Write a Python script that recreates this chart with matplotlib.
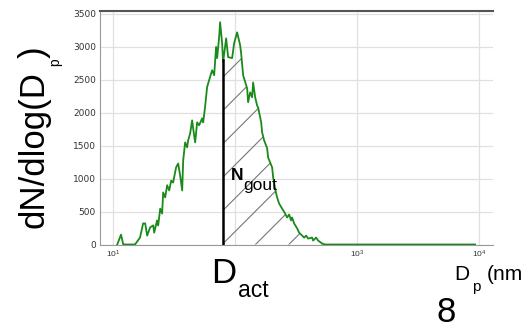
import numpy as np
import matplotlib
matplotlib.use("Agg")
import matplotlib.pyplot as plt

# size distribution (Dp in nm, dN/dlogDp)
dp = [10.8, 11.6, 12.1, 15.1, 16.6, 17.6, 18.3, 19.0, 20.1, 21.3, 21.7, 22.9,
      23.4, 24.3, 25.2, 25.7, 26.7, 27.7, 28.8, 29.9, 31.0, 32.8, 34.1, 35.4,
      36.8, 37.5, 38.9, 40.4, 41.2, 42.8, 44.4, 45.3, 47.0, 48.8, 50.7, 53.6,
      54.7, 56.8, 58.9, 63.6, 64.8, 67.3, 69.8, 71.2, 73.9, 75.3, 78.2, 79.7,
      84.4, 87.6, 94.5, 98.1, 103.8, 109.9, 112.0, 116.3, 125.4, 127.8, 132.7,
      137.8, 140.4, 145.9, 151.4, 154.4, 163.4, 166.5, 172.9, 183.0, 186.4,
      201.1, 204.9, 212.8, 216.8, 220.9, 229.5, 242.8, 256.9, 266.9, 277.1,
      287.7, 293.0, 304.5, 322.3, 334.6, 354.2, 367.8, 381.9, 396.6, 427.7,
      435.7, 461.2, 479.0, 516.6, 546.5, 1000.0, 3000.0, 9270.0]
dndlogdp = [0, 150, 0, 0, 105, 320, 320, 135, 260, 290, 180, 365,
            290, 545, 470, 790, 715, 900, 820, 970, 940, 1170, 1230, 1050,
            820, 1275, 1550, 1475, 1580, 1690, 1885, 1760, 1550, 1855, 1810, 1915,
            1855, 2100, 2390, 2600, 2645, 2570, 3000, 2830, 3145, 3375, 3055, 2770,
            3130, 2845, 2830, 3055, 3220, 3025, 2900, 2570, 2370, 2160, 2310,
            2235, 2460, 2235, 2110, 2080, 1855, 1700, 1580, 1460, 1320,
            1170, 1020, 850, 775, 715, 620, 545, 470, 410, 455,
            365, 410, 320, 245, 180, 135, 105, 135, 90, 105,
            60, 105, 60, 15, 0, 0, 0, 0]
d_act = 80.0

yticks = [0, 500, 1000, 1500, 2000, 2500, 3000, 3500]
xticks = [10, 100, 1000, 10000]
xticklabels = ["$10^{1}$", "", "$10^{3}$", "$10^{4}$"]

plt.rcParams['font.family'] = ['Liberation Sans', 'DejaVu Sans']
plt.rcParams['mathtext.fontset'] = 'custom'
plt.rcParams['mathtext.rm'] = 'Liberation Sans'
plt.rcParams['mathtext.it'] = 'Liberation Sans'
plt.rcParams['hatch.linewidth'] = 0.8

W, H = 531, 328
fig = plt.figure(figsize=(W / 100, H / 100), dpi=100)
ax = fig.add_axes([100 / W, 1 - 244.5 / H, 393 / W, 233.5 / H])

dp = np.array(dp)
y = np.array(dndlogdp, dtype=float)

ax.plot(dp, y, color="#1a8a1a", lw=1.3, zorder=3)

# hatched area right of D_act
y_act = np.interp(np.log10(d_act), np.log10(dp), y)
m = dp > d_act
xs = np.concatenate([[d_act], dp[m]])
ys = np.concatenate([[y_act], y[m]])
ax.fill_between(xs, 0, ys, facecolor="none", edgecolor="#777777",
                hatch="/", linewidth=0, zorder=2)
ax.plot([d_act, d_act], [0, y_act], color="black", lw=1.8, zorder=4)

ax.set_xscale("log")
ax.set_xlim(7.8, 13000)
ax.set_ylim(0, 3545)
ax.set_yticks(yticks)
ax.set_xticks(xticks)
ax.set_xticklabels(xticklabels)
ax.minorticks_off()
ax.tick_params(length=0, pad=3)
for lab in ax.get_yticklabels():
    lab.set_fontfamily("DejaVu Sans")
    lab.set_fontsize(6.5)
    lab.set_color("#333333")
for lab in ax.get_xticklabels():
    lab.set_fontsize(6)
    lab.set_color("#333333")
ax.grid(True, color="#e0e0e0", lw=0.9)
ax.set_axisbelow(True)

ax.spines["right"].set_visible(False)
ax.spines["top"].set_color("#555555")
ax.spines["top"].set_linewidth(1.5)
ax.spines["left"].set_color("#999999")
ax.spines["bottom"].set_color("#999999")


def ftext(x, y, s, size, rot=0, **kw):
    fig.text(x / W, 1 - y / H, s, fontsize=size, va="baseline", ha="left",
             rotation=rot, rotation_mode="anchor", **kw)


# overlaid annotations
ftext(44, 228, "dN/dlog(D", 25, rot=90)
ftext(59, 66, "p", 10, rot=90)
ftext(44, 58, ")", 25, rot=90)
ftext(211, 283, "D", 25)
ftext(238, 297, "act", 16.5)
ftext(231, 180, "N", 12.5, fontweight="bold")
ftext(243, 190, "gout", 12.5)
ftext(454, 280, "D", 15)
ftext(472, 291, "p", 11)
ftext(487, 280, "(nm", 15)
ftext(437, 322, "8", 25)

fig.savefig("out.png", dpi=100)
